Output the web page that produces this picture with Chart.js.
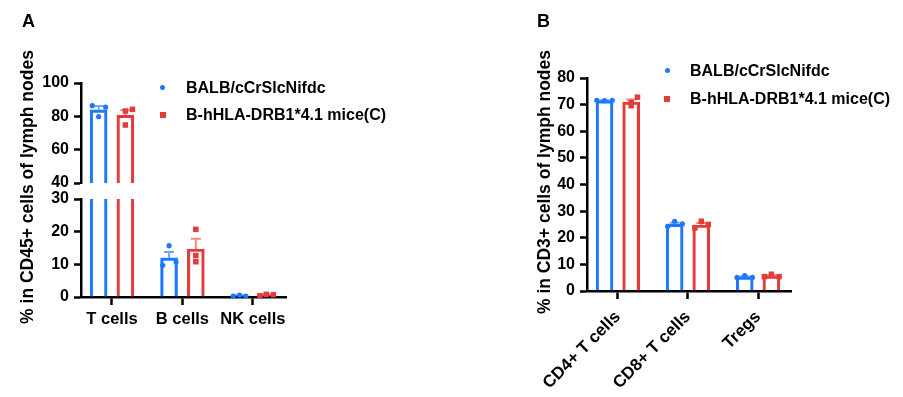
<!DOCTYPE html>
<html>
<head>
<meta charset="utf-8">
<script src="https://cdn.jsdelivr.net/npm/chart.js@4.4.1/dist/chart.umd.min.js"></script>
<style>
  body { margin: 0; background: #fff; }
  #wrap { position: relative; width: 903px; height: 397px; overflow: hidden; font-family: 'Liberation Sans', Arial, sans-serif; font-weight: bold; color: #000; }
  canvas { position: absolute; left: 0; top: 0; }
  .txt { position: absolute; white-space: nowrap; line-height: 20px; }
  .letter { font-size: 18px; }
  .ytitle { font-size: 17.5px; transform: translate(-50%, -50%) rotate(-90deg); }
  .leg { font-size: 16px; }
  .dot { position: absolute; width: 5px; height: 5px; border-radius: 50%; }
  .sq { position: absolute; width: 6px; height: 6px; }
</style>
</head>
<body>
<div id="wrap">
  <canvas id="aTop" width="903" height="397"></canvas>
  <canvas id="aBot" width="903" height="397"></canvas>
  <canvas id="bChart" width="903" height="397"></canvas>

  <div class="txt letter" style="left:22px;top:11px;">A</div>
  <div class="txt letter" style="left:537px;top:11px;">B</div>
  <div class="txt ytitle" style="left:27px;top:187px;">% in CD45+ cells of lymph nodes</div>
  <div class="txt ytitle" style="left:544px;top:182px;">% in CD3+ cells of lymph nodes</div>

  <div class="dot" id="legA1" style="left:160px;top:85px;"></div>
  <div class="txt leg" id="legA1t" style="left:186px;top:78px;"></div>
  <div class="sq" id="legA2" style="left:160px;top:112px;"></div>
  <div class="txt leg" id="legA2t" style="left:186px;top:105px;"></div>

  <div class="dot" id="legB1" style="left:665px;top:68px;"></div>
  <div class="txt leg" id="legB1t" style="left:690px;top:61px;"></div>
  <div class="sq" id="legB2" style="left:664px;top:96px;"></div>
  <div class="txt leg" id="legB2t" style="left:690px;top:89px;"></div>
</div>

<script>
// Groups
const groups = ['BALB/cCrSlcNifdc', 'B-hHLA-DRB1*4.1 mice(C)'];

// Panel A: % in CD45+ cells
const catsA = ['T cells', 'B cells', 'NK cells'];
const meanA_balb = [83.9, 12.0, 0.4];
const meanA_hla = [80.7, 14.7, 0.6];
const semA_balb = [2.3, 1.8, 0.1];
const semA_hla = [3.1, 3.1, 0.15];
const ptsA_balb = [[86.4, 79.8, 85.5], [9.7, 15.7, 10.7], [0.3, 0.6, 0.3]];
const ptsA_hla = [[83.2, 74.8, 84.2], [20.7, 12.7, 10.8], [0.4, 0.8, 0.7]];
const jitA_balb = [[-0.09, 0, 0.1], [-0.09, 0, 0.1], [-0.09, 0, 0.09]];
const jitA_hla = [[0, 0, 0.1], [0, 0, 0], [-0.09, 0, 0.1]];

// Panel B: % in CD3+ cells
const catsB = ['CD4+ T cells', 'CD8+ T cells', 'Tregs'];
const meanB_balb = [71.5, 25.1, 5.3];
const meanB_hla = [71.0, 24.8, 5.7];
const semB_balb = [0.1, 0.55, 0.25];
const semB_hla = [0.95, 0.75, 0.3];
const ptsB_balb = [[71.6, 71.5, 71.6], [24.3, 26.2, 25.2], [5.1, 5.8, 5.1]];
const ptsB_hla = [[70.8, 69.6, 72.8], [23.7, 26.2, 25.0], [5.4, 6.3, 5.4]];
const jitB_balb = [[-0.11, 0, 0.11], [-0.1, 0, 0.11], [-0.11, 0, 0.11]];
const jitB_hla = [[0, 0, 0.09], [-0.09, 0, 0.1], [-0.1, 0, 0.11]];

const colors = {
    blue: '#1E78FF',
    red: '#E23C3C',
    blueErr: 'rgba(30,120,255,0.65)',
    redErr: 'rgba(226,60,60,0.6)'
};
const OFF = 0.19; // bar offset from category tick
const FONT = "'Liberation Sans', Arial, sans-serif";

// legends (html text)
document.getElementById('legA1t').innerText = groups[0];
document.getElementById('legA2t').innerText = groups[1];
document.getElementById('legB1t').innerText = groups[0];
document.getElementById('legB2t').innerText = groups[1];
['legA1', 'legB1'].forEach(id => document.getElementById(id).style.background = colors.blue);
['legA2', 'legB2'].forEach(id => document.getElementById(id).style.background = colors.red);

function barSet(means, offset, color) {
    return {
        type: 'bar',
        data: means.map((v, i) => ({ x: i + offset, y: v })),
        borderColor: color,
        backgroundColor: 'rgba(255,255,255,0)',
        borderWidth: 2.5,
        borderSkipped: 'start',
        maxBarThickness: 17,
        barPercentage: 1,
        categoryPercentage: 1,
        grouped: false,
        order: 2
    };
}

function dotSet(pts, jit, offset, color, style, radius, lo, hi) {
    const data = [];
    pts.forEach((arr, i) => arr.forEach((v, j) => {
        if (v >= lo && v <= hi) data.push({ x: i + offset + jit[i][j], y: v });
    }));
    return {
        type: 'scatter',
        data: data,
        pointStyle: style,
        pointRadius: radius,
        pointHoverRadius: radius,
        backgroundColor: color,
        borderColor: color,
        borderWidth: 0,
        clip: false,
        order: 1
    };
}

// SEM error bars (upper half, GraphPad style)
function makeErrorBars(series) {
    return {
        id: 'errorBars',
        beforeDatasetsDraw(chart) {
            const { ctx, chartArea, scales } = chart;
            ctx.save();
            ctx.beginPath();
            ctx.rect(chartArea.left, chartArea.top - 2, chartArea.right - chartArea.left, chartArea.bottom - chartArea.top + 2);
            ctx.clip();
            series.forEach(s => {
                ctx.strokeStyle = s.color;
                ctx.lineWidth = 2;
                s.means.forEach((m, i) => {
                    const px = scales.x.getPixelForValue(i + s.offset);
                    const y0 = scales.y.getPixelForValue(m);
                    const y1 = scales.y.getPixelForValue(m + s.sem[i]);
                    ctx.beginPath();
                    ctx.moveTo(px, y0); ctx.lineTo(px, y1);
                    ctx.moveTo(px - 5, y1); ctx.lineTo(px + 5, y1);
                    ctx.stroke();
                });
            });
            ctx.restore();
        }
    };
}

function axisX(cats, show, rotate) {
    return {
        type: 'linear',
        min: -0.44,
        max: 2.47,
        offset: false,
        display: show,
        afterBuildTicks: (scale) => { scale.ticks = cats.map((c, i) => ({ value: i })); },
        ticks: {
            autoSkip: false,
            color: '#000',
            padding: rotate ? 8 : 5,
            maxRotation: rotate ? 45 : 0,
            minRotation: rotate ? 45 : 0,
            font: { family: FONT, size: rotate ? 17 : 16.5, weight: 'bold' },
            callback: (v) => cats[v]
        },
        grid: { display: true, drawOnChartArea: false, drawTicks: true, tickLength: 8, tickWidth: 2.5, tickColor: '#000', offset: false },
        border: { display: true, color: '#000', width: 2.5 }
    };
}

function axisY(min, max, step) {
    return {
        min: min,
        max: max,
        ticks: {
            stepSize: step,
            color: '#000',
            padding: 5,
            font: { family: FONT, size: 16, weight: 'bold' }
        },
        grid: { display: true, drawOnChartArea: false, drawTicks: true, tickLength: 7, tickWidth: 2.5, tickColor: '#000' },
        border: { display: true, color: '#000', width: 2.5 }
    };
}

function makeChart(id, datasets, xScale, yScale, errSeries, pad) {
    const padding = Object.assign({}, pad);
    return new Chart(document.getElementById(id), {
        type: 'bar',
        data: { datasets: datasets },
        options: {
            responsive: false,
            animation: false,
            devicePixelRatio: 1,
            layout: { padding: padding },
            plugins: { legend: { display: false }, tooltip: { enabled: false } },
            scales: { x: xScale, y: yScale }
        },
        plugins: [makeErrorBars(errSeries)]
    });
}

// move chart area onto target pixels
function place(chart, t) {
    const a = chart.chartArea;
    const p = chart.options.layout.padding;
    chart.options.layout.padding = {
        left: p.left + t.left - a.left,
        top: p.top + t.top - a.top,
        right: p.right + a.right - t.right,
        bottom: p.bottom + a.bottom - t.bottom
    };
    chart.update('none');
}

function panelDatasets(mb, mh, pb, jb, ph, jh, lo, hi) {
    return [
        barSet(mb, -OFF, colors.blue),
        barSet(mh, OFF, colors.red),
        dotSet(pb, jb, -OFF, colors.blue, 'circle', 2.6, lo, hi),
        dotSet(ph, jh, OFF, colors.red, 'rect', 3.9, lo, hi)
    ];
}

function errSeries(mb, sb, mh, sh) {
    return [
        { means: mb, sem: sb, offset: -OFF, color: colors.blueErr },
        { means: mh, sem: sh, offset: OFF, color: colors.redErr }
    ];
}

// Panel A, upper segment (40-100)
const chartATop = makeChart('aTop',
    panelDatasets(meanA_balb, meanA_hla, ptsA_balb, jitA_balb, ptsA_hla, jitA_hla, 40, 100),
    axisX(catsA, false, false), axisY(40, 100, 20),
    errSeries(meanA_balb, semA_balb, meanA_hla, semA_hla),
    { left: 40, top: 75, right: 617, bottom: 214 });
place(chartATop, { left: 81, top: 83, right: 286, bottom: 183 });

// Panel A, lower segment (0-30)
const chartABot = makeChart('aBot',
    panelDatasets(meanA_balb, meanA_hla, ptsA_balb, jitA_balb, ptsA_hla, jitA_hla, 0, 30),
    axisX(catsA, true, false), axisY(0, 30, 10),
    errSeries(meanA_balb, semA_balb, meanA_hla, semA_hla),
    { left: 40, top: 190, right: 617, bottom: 70 });
place(chartABot, { left: 81, top: 199, right: 286, bottom: 297 });

// Panel B
const chartB = makeChart('bChart',
    panelDatasets(meanB_balb, meanB_hla, ptsB_balb, jitB_balb, ptsB_hla, jitB_hla, 0, 80),
    axisX(catsB, true, true), axisY(0, 80, 10),
    errSeries(meanB_balb, semB_balb, meanB_hla, semB_hla),
    { left: 550, top: 70, right: 112, bottom: 40 });
place(chartB, { left: 587, top: 78, right: 791, bottom: 291 });
</script>
</body>
</html>
